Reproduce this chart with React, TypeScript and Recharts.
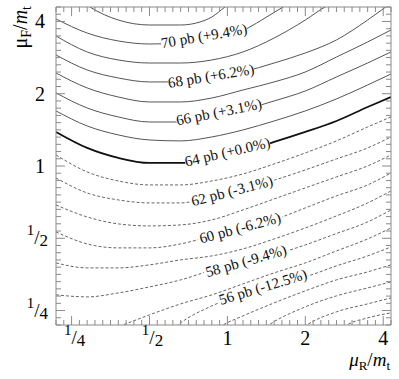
import React from 'react';
import { LineChart, Line, XAxis, YAxis, ReferenceDot } from 'recharts';

const FONT = 'Liberation Serif, DejaVu Serif, serif';
const FRAME = '#8a8a8a';

// axes in log2 units: x = log2(muR/mt), y = log2(muF/mt)
const xDomain = [-2.2, 2.1];
const yDomain = [-2.2, 2.2];
const majorTicks = [-2, -1, 0, 1, 2];
const majorLabels = ['1/4', '1/2', '1', '2', '4'];

// contour lines, [x, y]
const c71 = [[-1.892, 2.297], [-1.764, 2.2], [-1.4, 2.02], [-1.0, 1.951], [-0.6, 1.951], [-0.351, 1.993], [-0.2, 2.062], [-0.031, 2.2], [0.098, 2.297]];
const c70 = [[-2.2, 2.034], [-1.8, 1.84], [-1.4, 1.73], [-1.0, 1.688], [-0.6, 1.702], [-0.2, 1.744], [0.265, 1.91], [0.483, 2.048], [0.714, 2.2], [0.868, 2.297]];
const c69 = [[-2.2, 1.799], [-1.8, 1.578], [-1.4, 1.467], [-1.0, 1.425], [-0.6, 1.425], [-0.2, 1.467], [0.2, 1.578], [0.6, 1.771], [1.0, 2.02], [1.253, 2.2], [1.446, 2.297]];
const c68 = [[-2.2, 1.536], [-1.8, 1.329], [-1.4, 1.218], [-1.0, 1.163], [-0.6, 1.163], [-0.2, 1.204], [0.2, 1.301], [0.6, 1.425], [1.0, 1.564], [1.4, 1.744], [1.8, 2.02], [2.152, 2.297]];
const c67 = [[-2.2, 1.287], [-1.8, 1.08], [-1.4, 0.955], [-1.0, 0.886], [-0.6, 0.886], [-0.2, 0.941], [0.2, 1.052], [0.6, 1.163], [1.0, 1.301], [1.4, 1.508], [1.8, 1.716], [2.1, 1.882]];
const c66 = [[-2.2, 1.011], [-1.8, 0.803], [-1.4, 0.679], [-1.0, 0.609], [-0.6, 0.609], [-0.2, 0.679], [0.2, 0.775], [0.6, 0.9], [1.0, 1.038], [1.4, 1.232], [1.8, 1.425], [2.1, 1.578]];
const c65 = [[-2.2, 0.762], [-1.8, 0.554], [-1.4, 0.43], [-1.0, 0.36], [-0.6, 0.347], [-0.2, 0.402], [0.2, 0.499], [0.6, 0.623], [1.0, 0.762], [1.4, 0.928], [1.8, 1.121], [2.1, 1.273]];
const c64 = [[-2.2, 0.471], [-1.8, 0.25], [-1.4, 0.112], [-1.0, 0.042], [-0.6, 0.042], [-0.2, 0.112], [0.2, 0.208], [0.6, 0.333], [1.0, 0.471], [1.4, 0.623], [1.8, 0.817], [2.1, 0.955]];
const c63 = [[-2.2, 0.153], [-1.8, -0.082], [-1.4, -0.207], [-1.0, -0.262], [-0.6, -0.262], [-0.2, -0.207], [0.2, -0.11], [0.6, 0.028], [1.0, 0.181], [1.4, 0.347], [1.8, 0.54], [2.1, 0.679]];
const c62 = [[-2.2, -0.165], [-1.8, -0.373], [-1.4, -0.469], [-1.0, -0.511], [-0.6, -0.511], [-0.2, -0.414], [0.2, -0.317], [0.611, -0.193], [1.0, -0.054], [1.4, 0.098], [1.8, 0.25], [2.1, 0.402]];
const c61 = [[-2.2, -0.539], [-1.8, -0.705], [-1.4, -0.801], [-1.0, -0.829], [-0.6, -0.815], [-0.2, -0.746], [0.2, -0.608], [0.6, -0.456], [1.0, -0.303], [1.4, -0.151], [1.8, 0.001], [2.1, 0.153]];
const c60 = [[-2.2, -0.912], [-1.8, -1.078], [-1.4, -1.133], [-1.0, -1.133], [-0.6, -1.078], [-0.2, -0.967], [0.2, -0.857], [0.701, -0.705], [1.0, -0.58], [1.4, -0.414], [1.8, -0.262], [2.1, -0.096]];
const c59 = [[-2.2, -1.341], [-1.8, -1.41], [-1.4, -1.41], [-1.0, -1.368], [-0.6, -1.299], [-0.2, -1.244], [0.2, -1.147], [0.6, -1.009], [1.0, -0.857], [1.4, -0.691], [1.8, -0.511], [2.1, -0.345]];
const c58 = [[-2.2, -1.783], [-1.8, -1.811], [-1.4, -1.756], [-1.0, -1.673], [-0.6, -1.576], [-0.2, -1.438], [0.2, -1.299], [0.804, -1.161], [1.0, -1.092], [1.4, -0.934], [1.8, -0.774], [2.1, -0.608]];
const c57 = [[-1.507, -2.268], [-1.34, -2.199], [-1.0, -2.06], [-0.6, -1.908], [-0.2, -1.783], [0.2, -1.631], [0.6, -1.479], [1.0, -1.341], [1.4, -1.175], [1.8, -1.009], [2.1, -0.857]];
const c56 = [[-0.711, -2.268], [-0.6, -2.171], [-0.2, -1.936], [0.2, -1.77], [0.6, -1.631], [1.035, -1.521], [1.4, -1.382], [1.8, -1.244], [2.1, -1.12]];
const c55 = [[-0.159, -2.268], [-0.056, -2.199], [0.2, -2.074], [0.6, -1.894], [1.0, -1.728], [1.4, -1.576], [1.8, -1.465], [2.1, -1.368]];
const c54 = [[0.444, -2.268], [0.534, -2.199], [1.0, -1.949], [1.4, -1.797], [1.8, -1.687], [2.1, -1.604]];
const c53 = [[0.932, -2.268], [1.022, -2.199], [1.4, -2.018], [1.8, -1.908], [2.1, -1.825]];
const c52 = [[1.446, -2.268], [1.536, -2.199], [1.8, -2.102], [2.1, -2.032]];

const contourValues = [71, 70, 69, 68, 67, 66, 65, 64, 63, 62, 61, 60, 59, 58, 57, 56, 55, 54, 53, 52];
const contourPoints = [c71, c70, c69, c68, c67, c66, c65, c64, c63, c62, c61, c60, c59, c58, c57, c56, c55, c54, c53, c52];

// labelled contours
const labelValues = [70, 68, 66, 64, 62, 60, 58, 56];
const labelPct = ['+9.4%', '+6.2%', '+3.1%', '+0.0%', '-3.1%', '-6.2%', '-9.4%', '-12.5%'];
const labelAt = [[-0.3, 1.799], [-0.21, 1.246], [-0.108, 0.748], [0.0, 0.194], [0.059, -0.345], [0.162, -0.857], [0.239, -1.313], [0.457, -1.673]];
const labelAngle = [-9.7, -9.3, -11.3, -13, -14.5, -15, -16, -17];

const range = (a: number, b: number) => {
  const out: number[] = [];
  for (let i = Math.round(a * 10); i <= Math.round(b * 10); i++) out.push(i / 10);
  return out;
};
const xTicks = range(xDomain[0], xDomain[1]);
const yTicks = range(yDomain[0], yDomain[1]);

const isMajor = (v: number) => Math.abs(v - Math.round(v)) < 1e-6;
const labelFor = (v: number) => majorLabels[majorTicks.indexOf(Math.round(v))];

const TickLabel = ({ x, y, text, anchor }: { x: number; y: number; text: string; anchor: string }) => {
  const [num, den] = text.split('/');
  if (den === undefined) {
    return (
      <text x={x} y={y} textAnchor={anchor} style={{ fontFamily: FONT }} fontSize={20} fill="#000">
        {text}
      </text>
    );
  }
  return (
    <text x={x} y={y} textAnchor={anchor} style={{ fontFamily: FONT }} fill="#000">
      <tspan fontSize={15} dy={-10}>{num}</tspan>
      <tspan fontSize={19} dy={9}>/</tspan>
      <tspan fontSize={17} dy={2}>{den}</tspan>
    </text>
  );
};

// ticks point into the frame, like the ROOT original
const makeTick = (side: 'bottom' | 'top' | 'left' | 'right') => (p: any) => {
  const v = p.payload.value;
  const major = isMajor(v);
  const len = major ? 9 : 5;
  const text = major ? labelFor(v) : null;
  const frac = text ? text.includes('/') : false;
  let line;
  if (side === 'bottom') line = <line x1={p.x} x2={p.x} y1={p.y} y2={p.y - len} stroke={FRAME} />;
  else if (side === 'top') line = <line x1={p.x} x2={p.x} y1={p.y} y2={p.y + len} stroke={FRAME} />;
  else if (side === 'left') line = <line x1={p.x} x2={p.x + len} y1={p.y} y2={p.y} stroke={FRAME} />;
  else line = <line x1={p.x} x2={p.x - len} y1={p.y} y2={p.y} stroke={FRAME} />;
  return (
    <g>
      {line}
      {text && side === 'bottom' && <TickLabel x={p.x + (frac ? 3 : 0)} y={p.y + 20} text={text} anchor="middle" />}
      {text && side === 'left' && <TickLabel x={p.x - (frac ? 8 : 11)} y={p.y + 7} text={text} anchor="end" />}
    </g>
  );
};

const BottomTick = makeTick('bottom');
const TopTick = makeTick('top');
const LeftTick = makeTick('left');
const RightTick = makeTick('right');

const lineStyle = (v: number) => {
  if (v === 64) return { stroke: '#111', strokeWidth: 1.8, strokeDasharray: undefined };
  if (v > 64) return { stroke: '#555', strokeWidth: 1, strokeDasharray: undefined };
  return { stroke: '#666', strokeWidth: 1, strokeDasharray: '3 2' };
};

const ContourLabel = (text: string, angle: number) => (p: any) => {
  const w = text.length * 6.7;
  return (
    <g transform={`translate(${p.cx},${p.cy}) rotate(${angle})`}>
      <rect x={-w / 2} y={-6.5} width={w} height={13} fill="#fff" />
      <text x={0} y={0} textAnchor="middle" dominantBaseline="central" style={{ fontFamily: FONT }} fontSize={15} fill="#111">
        {text}
      </text>
    </g>
  );
};

export default function App() {
  return (
    <div style={{ position: 'absolute', left: 0, top: 0, width: 399, height: 379, background: '#fff' }}>
      <LineChart width={399} height={379} margin={{ top: 6, right: 7, bottom: 53, left: 55 }}>
        <XAxis xAxisId="b" type="number" dataKey="x" domain={xDomain} allowDataOverflow ticks={xTicks} interval={0}
          height={1} tickSize={0} tickMargin={0} tickLine={false} axisLine={{ stroke: FRAME }} tick={BottomTick} />
        <XAxis xAxisId="t" orientation="top" type="number" dataKey="x" domain={xDomain} allowDataOverflow ticks={xTicks} interval={0}
          height={1} tickSize={0} tickMargin={0} tickLine={false} axisLine={{ stroke: FRAME }} tick={TopTick} />
        <YAxis yAxisId="l" type="number" dataKey="y" domain={yDomain} allowDataOverflow ticks={yTicks} interval={0}
          width={1} tickSize={0} tickMargin={0} tickLine={false} axisLine={{ stroke: FRAME }} tick={LeftTick} />
        <YAxis yAxisId="r" orientation="right" type="number" dataKey="y" domain={yDomain} allowDataOverflow ticks={yTicks} interval={0}
          width={1} tickSize={0} tickMargin={0} tickLine={false} axisLine={{ stroke: FRAME }} tick={RightTick} />
        {contourValues.map((v, i) => {
          const s = lineStyle(v);
          return (
            <Line
              key={v}
              xAxisId="b"
              yAxisId="l"
              data={contourPoints[i].map(([x, y]) => ({ x, y }))}
              dataKey="y"
              type="monotone"
              stroke={s.stroke}
              strokeWidth={s.strokeWidth}
              strokeDasharray={s.strokeDasharray}
              dot={false}
              activeDot={false}
              isAnimationActive={false}
            />
          );
        })}
        {labelValues.map((v, i) => (
          <ReferenceDot
            key={'lab' + v}
            xAxisId="b"
            yAxisId="l"
            x={labelAt[i][0]}
            y={labelAt[i][1]}
            r={1}
            shape={ContourLabel(`${v} pb (${labelPct[i]})`, labelAngle[i])}
          />
        ))}
      </LineChart>
      <svg width={399} height={379} style={{ position: 'absolute', left: 0, top: 0, pointerEvents: 'none' }}>
        <text transform="translate(27,6) rotate(-90)" textAnchor="end" style={{ fontFamily: FONT }} fontSize={20} fill="#000">
          <tspan>μ</tspan>
          <tspan fontSize={14} dy={4}>F</tspan>
          <tspan dy={-4}>/</tspan>
          <tspan fontStyle="italic">m</tspan>
          <tspan fontSize={14} dy={4}>t</tspan>
        </text>
        <text x={390} y={366} textAnchor="end" style={{ fontFamily: FONT }} fontSize={19} fill="#000">
          <tspan fontStyle="italic">μ</tspan>
          <tspan fontSize={13} dy={4}>R</tspan>
          <tspan dy={-4}>/</tspan>
          <tspan fontStyle="italic">m</tspan>
          <tspan fontSize={13} dy={4}>t</tspan>
        </text>
      </svg>
    </div>
  );
}
